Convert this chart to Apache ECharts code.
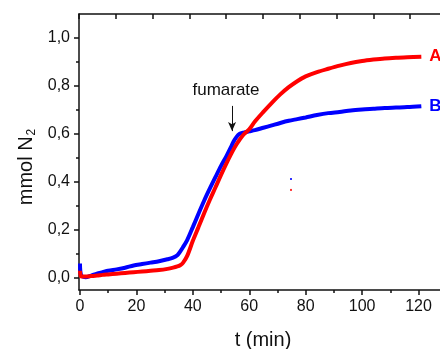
<!DOCTYPE html>
<html>
<head>
<meta charset="utf-8">
<script src="https://cdn.jsdelivr.net/npm/echarts@6/dist/echarts.min.js"></script>
<style>html,body{margin:0;padding:0;background:#fff;}#c{width:440px;height:349px;}</style>
</head>
<body>
<div id="c"></div>
<script>
// time (min)
var tValues = [0, 0.4, 2, 4, 6, 8, 10, 13, 16, 19, 22, 25, 28, 31, 33, 34.5, 35.5, 36.5, 38, 40, 42, 44, 46, 48, 50, 52, 53.5, 54.5, 55.5, 56.5, 58, 60, 62, 65, 68, 71, 74, 77, 80, 84, 88, 92, 96, 100, 104, 108, 112, 116, 121];
// series A (red), mmol N2
var seriesA = [0.03, 0.006, 0.006, 0.008, 0.01, 0.013, 0.015, 0.018, 0.021, 0.024, 0.027, 0.03, 0.033, 0.038, 0.043, 0.048, 0.053, 0.063, 0.092, 0.155, 0.212, 0.27, 0.325, 0.377, 0.43, 0.48, 0.515, 0.537, 0.557, 0.575, 0.598, 0.62, 0.652, 0.692, 0.73, 0.765, 0.795, 0.82, 0.84, 0.858, 0.872, 0.885, 0.896, 0.904, 0.91, 0.915, 0.918, 0.92, 0.922];
// series B (blue), mmol N2
var seriesB = [0.06, 0.012, 0.003, 0.01, 0.018, 0.024, 0.03, 0.036, 0.043, 0.052, 0.058, 0.064, 0.07, 0.078, 0.085, 0.095, 0.11, 0.128, 0.158, 0.212, 0.268, 0.322, 0.372, 0.42, 0.467, 0.51, 0.545, 0.57, 0.588, 0.6, 0.606, 0.611, 0.616, 0.626, 0.636, 0.646, 0.655, 0.662, 0.669, 0.679, 0.687, 0.692, 0.698, 0.702, 0.705, 0.708, 0.71, 0.712, 0.716];
// stray points
var strayB = [[74.8, 0.4125]];
var strayA = [[74.8, 0.367]];
// annotation arrow (fumarate addition)
var arrowT = 53.9, arrowFrom = 0.717, arrowTo = 0.612;
// ticks
var xMajor = [0, 20, 40, 60, 80, 100, 120];
var xMinor = [10, 30, 50, 70, 90, 110];
var yMajor = [0, 0.2, 0.4, 0.6, 0.8, 1.0];
var yMinor = [0.1, 0.3, 0.5, 0.7, 0.9];

var FF = 'Liberation Sans, Arial, sans-serif';
var AX = '#111';
function pairs(t, v) { return t.map(function (x, i) { return [x, v[i]]; }); }
var xMin = -0.355, xMax = 130.1, yMin = -0.05, yMax = 1.1;

var chart = echarts.init(document.getElementById('c'), null, {renderer: 'canvas'});
chart.setOption({
  animation: false,
  backgroundColor: '#fff',
  grid: {left: 79, top: 14, width: 368, height: 276, containLabel: false, outerBoundsMode: 'none'},
  xAxis: [
    {type: 'value', position: 'bottom', min: xMin, max: xMax,
      axisLine: {show: true, onZero: false, lineStyle: {color: AX, width: 1.5}},
      axisTick: {show: true, customValues: xMajor, length: 5, lineStyle: {color: AX, width: 1.5}},
      axisLabel: {show: true, customValues: xMajor, fontSize: 16, fontFamily: FF, color: '#111', margin: 9},
      splitLine: {show: false},
      name: 't (min)', nameLocation: 'middle', nameGap: 40,
      nameTextStyle: {fontSize: 20, fontFamily: FF, color: '#111'}
    },
    {type: 'value', position: 'bottom', min: xMin, max: xMax,
      axisLine: {show: false, onZero: false},
      axisTick: {show: true, customValues: xMinor, length: 3, lineStyle: {color: AX, width: 1.5}},
      axisLabel: {show: false}, splitLine: {show: false}
    },
    {type: 'value', position: 'top', min: 0, max: 10, interval: 1,
      axisLine: {show: true, onZero: false, lineStyle: {color: AX, width: 1.5}},
      axisTick: {show: true, inside: true, length: 5, lineStyle: {color: AX, width: 1.5}},
      axisLabel: {show: false}, splitLine: {show: false}
    }
  ],
  yAxis: [
    {type: 'value', position: 'left', min: yMin, max: yMax,
      axisLine: {show: true, onZero: false, lineStyle: {color: AX, width: 1.5}},
      axisTick: {show: true, customValues: yMajor, length: 5, lineStyle: {color: AX, width: 1.5}},
      axisLabel: {show: true, customValues: yMajor, fontSize: 16, fontFamily: FF, color: '#111', margin: 9,
        formatter: function (v) { return v.toFixed(1).replace('.', ','); }},
      splitLine: {show: false}
    },
    {type: 'value', position: 'left', min: yMin, max: yMax,
      axisLine: {show: false, onZero: false},
      axisTick: {show: true, customValues: yMinor, length: 3, lineStyle: {color: AX, width: 1.5}},
      axisLabel: {show: false}, splitLine: {show: false}
    }
  ],
  graphic: [
    {type: 'text', x: 26, y: 167, rotation: Math.PI / 2,
      style: {text: '{m|mmol N}{s|2}', align: 'center', verticalAlign: 'middle', fill: '#111',
        rich: {
          m: {fontSize: 20, fontFamily: FF, fill: '#111', lineHeight: 24},
          s: {fontSize: 12, fontFamily: FF, fill: '#111', lineHeight: 12, verticalAlign: 'bottom', padding: [8, 0, 0, 1]}
        }}
    },
    {type: 'text', x: 226, y: 90,
      style: {text: 'fumarate', align: 'center', verticalAlign: 'middle', fill: '#111', fontSize: 17, fontFamily: FF}
    }
  ],
  series: [
    {type: 'line', name: 'B', xAxisIndex: 0, yAxisIndex: 0, data: pairs(tValues, seriesB),
      showSymbol: false, symbol: 'none', smooth: 0.3,
      lineStyle: {color: '#0000ff', width: 4}, itemStyle: {color: '#0000ff'},
      endLabel: {show: true, formatter: 'B', color: '#0000ff', fontSize: 17, fontWeight: 'bold', fontFamily: FF, distance: 8},
      z: 2
    },
    {type: 'line', name: 'A', xAxisIndex: 0, yAxisIndex: 0, data: pairs(tValues, seriesA),
      showSymbol: false, symbol: 'none', smooth: 0.3,
      lineStyle: {color: '#ff0000', width: 4}, itemStyle: {color: '#ff0000'},
      endLabel: {show: true, formatter: 'A', color: '#ff0000', fontSize: 17, fontWeight: 'bold', fontFamily: FF, distance: 8},
      markLine: {silent: true, symbol: ['none', 'arrow'], symbolSize: [6, 9], animation: false,
        label: {show: false}, lineStyle: {color: '#111', width: 1, type: 'solid'},
        data: [[{coord: [arrowT, arrowFrom]}, {coord: [arrowT, arrowTo]}]]},
      z: 3
    },
    {type: 'scatter', xAxisIndex: 0, yAxisIndex: 0, data: strayB, symbol: 'rect', symbolSize: 2,
      itemStyle: {color: '#0000ff'}},
    {type: 'scatter', xAxisIndex: 0, yAxisIndex: 0, data: strayA, symbol: 'rect', symbolSize: 2,
      itemStyle: {color: '#ff0000'}}
  ]
});
</script>
</body>
</html>
